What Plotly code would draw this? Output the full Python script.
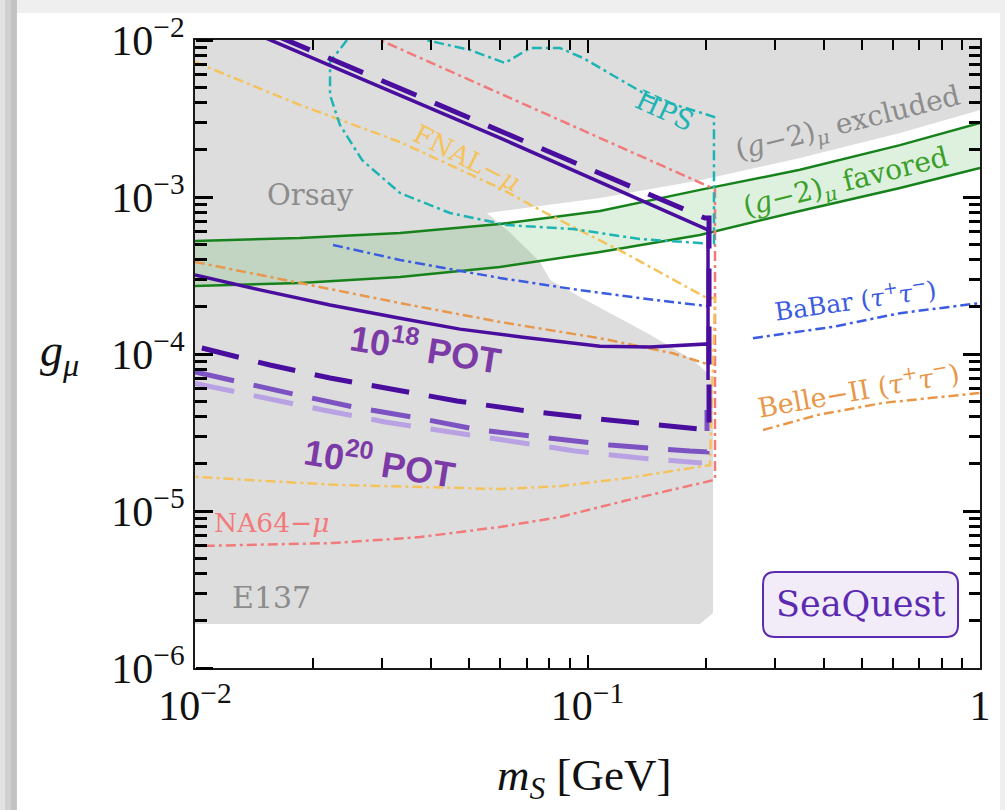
import numpy as np
import plotly.graph_objects as go

# ---------------- data (m_S in GeV, g_mu) ----------------
# excluded region: E137 + Orsay + (g-2)_mu excluded, traced as one outline
excl_m = [0.01, 1.0, 1.0, 0.6255, 0.3477, 0.1934, 0.1076, 0.0554, 0.0624, 0.0757,
          0.0803, 0.0957, 0.1418, 0.1857, 0.2088, 0.2088, 0.1934, 0.01]
excl_g = [1.0e-2, 1.0e-2, 3.58e-3, 2.56e-3, 1.77e-3, 1.28e-3, 9.86e-4, 7.91e-4, 6.17e-4, 3.86e-4,
          2.96e-4, 2.31e-4, 1.36e-4, 9.15e-5, 7.03e-5, 2.24e-6, 1.91e-6, 1.91e-6]

# (g-2)_mu favored band
g2_m = [0.01, 0.0185, 0.0333, 0.0598, 0.1076, 0.1934, 0.3477, 0.6255, 1.0]
g2_upper = [5.25e-4, 5.48e-4, 5.90e-4, 6.73e-4, 8.15e-4, 1.11e-3, 1.49e-3, 2.14e-3, 2.96e-3]
g2_lower = [2.71e-4, 2.83e-4, 3.09e-4, 3.58e-4, 4.46e-4, 5.73e-4, 8.15e-4, 1.14e-3, 1.53e-3]

# SeaQuest, 10^18 POT (solid contour)
sq18_m = [0.01452, 0.0598, 0.2028, 0.2028, 0.2028, 0.1443, 0.1076, 0.0685, 0.0473, 0.0333,
          0.02208, 0.01464, 0.01]
sq18_g = [1.076e-2, 2.38e-3, 6.17e-4, 6.82e-5, 1.16e-4, 1.11e-4, 1.12e-4, 1.28e-4, 1.44e-4, 1.69e-4,
          2.05e-4, 2.56e-4, 3.19e-4]

# SeaQuest, 10^20 POT (dashed contours)
sq20_m = [0.01596, 0.0598, 0.1992, 0.2040, 0.2040, 0.1076, 0.0673, 0.0465, 0.0323, 0.02208,
          0.01552, 0.01]
sq20_g = [1.076e-2, 2.63e-3, 7.34e-4, 7.34e-4, 3.28e-5, 3.85e-5, 4.40e-5, 5.02e-5, 5.90e-5, 7.03e-5,
          8.51e-5, 1.12e-4]
sq20b_m = [0.01, 0.01228, 0.01777, 0.02542, 0.037, 0.0532, 0.0779, 0.1141, 0.1824, 0.2016, 0.2016]
sq20b_g = [7.68e-5, 6.82e-5, 5.56e-5, 4.59e-5, 3.91e-5, 3.28e-5, 2.92e-5, 2.63e-5, 2.41e-5, 2.38e-5,
           4.40e-5]
sq20c_m = [0.01, 0.01464, 0.0212, 0.0305, 0.0441, 0.0635, 0.0929, 0.1345, 0.1957]
sq20c_g = [6.5e-5, 5.32e-5, 4.40e-5, 3.69e-5, 3.19e-5, 2.75e-5, 2.41e-5, 2.18e-5, 2.02e-5]

# Belle-II (tau+ tau-)
belle_m = [0.01, 0.0185, 0.0333, 0.0598, 0.1076, 0.1651, 0.2051]
belle_g = [3.86e-4, 2.83e-4, 2.11e-4, 1.60e-4, 1.26e-4, 1.01e-4, 8.51e-5]
belle_hi_m = [0.280, 0.3843, 0.566, 1.0]
belle_hi_g = [3.28e-5, 4.08e-5, 4.88e-5, 5.65e-5]

# BaBar (tau+ tau-)
babar_m = [0.02247, 0.0333, 0.0446, 0.0598, 0.0919, 0.136, 0.2016]
babar_g = [4.95e-4, 3.97e-4, 3.48e-4, 3.05e-4, 2.59e-4, 2.27e-4, 2.02e-4]
babar_hi_m = [0.264, 0.422, 0.6255, 1.0]
babar_hi_g = [1.26e-4, 1.49e-4, 1.82e-4, 2.11e-4]

# FNAL-mu
fnal_m = [0.01, 0.0185, 0.0333, 0.0598, 0.0757, 0.1231, 0.2016, 0.2113, 0.2051, 0.126, 0.0851,
          0.0598, 0.02247, 0.01]
fnal_g = [7.24e-3, 3.86e-3, 2.24e-3, 1.14e-3, 8.26e-4, 4.46e-4, 2.27e-4, 2.27e-4, 1.96e-5, 1.62e-5,
          1.44e-5, 1.38e-5, 1.47e-5, 1.65e-5]

# NA64-mu
na64_m = [0.0277, 0.0296, 0.2113, 0.2113, 0.126, 0.0851, 0.0598, 0.0374, 0.02247, 0.01]
na64_g = [1.076e-2, 1.0e-2, 1.12e-3, 1.58e-5, 1.17e-5, 9.16e-6, 7.91e-6, 6.82e-6, 6.25e-6, 5.98e-6]

# HPS
hps_m = [0.02439, 0.02208, 0.02208, 0.0234, 0.02664, 0.0333, 0.0446, 0.0624, 0.0919, 0.136, 0.21,
         0.21, 0.1443, 0.0974, 0.0851, 0.0714, 0.0616, 0.0502, 0.0397, 0.0363]
hps_g = [1.0e-2, 7.24e-3, 4.46e-3, 2.88e-3, 1.72e-3, 1.06e-3, 7.91e-4, 6.63e-4, 6.25e-4, 5.40e-4, 5.02e-4,
         3.24e-3, 4.34e-3, 7.68e-3, 8.89e-3, 8.89e-3, 7.14e-3, 8.64e-3, 9.86e-3, 1.05e-2]

x_ticks = [0.01, 0.1, 1]
x_ticktext = ["10<sup>−2</sup>", "10<sup>−1</sup>", "1"]
y_ticks = [1e-6, 1e-5, 1e-4, 1e-3, 1e-2]
y_ticktext = ["10<sup>−6</sup>", "10<sup>−5</sup>", "10<sup>−4</sup>", "10<sup>−3</sup>", "10<sup>−2</sup>"]
x_minor = [k * 10.0 ** e for e in (-2, -1) for k in range(2, 10)]
y_minor = [k * 10.0 ** e for e in (-6, -5, -4, -3) for k in range(2, 10)]

# ---------------- colours ----------------
C_GRAY = "#dddddd"
C_GREEN = "#17821c"
C_PURPLE = "#4a0e9e"
C_PURPLE_MID = "#7d52c2"
C_PURPLE_LIGHT = "#b9a2e3"
C_ORANGE = "#e8984a"
C_YELLOW = "#f5c35c"
C_PINK = "#f27a7a"
C_CYAN = "#1fb4b4"
C_BLUE = "#3b5be0"
C_AXIS = "#000000"

DASHDOT = "10px,4px,3px,4px"

fig = go.Figure()

# excluded region
fig.add_trace(go.Scatter(x=excl_m, y=excl_g, mode="lines", fill="toself", fillcolor=C_GRAY,
                         line=dict(width=0), hoverinfo="skip", showlegend=False))

# (g-2) favored band
band_m = list(g2_m) + list(g2_m[::-1])
band_g = list(g2_lower) + list(g2_upper[::-1])
fig.add_trace(go.Scatter(x=band_m, y=band_g, mode="lines", fill="toself",
                         fillcolor="rgba(70,175,70,0.18)", line=dict(width=0),
                         hoverinfo="skip", showlegend=False))
for yy in (g2_upper, g2_lower):
    fig.add_trace(go.Scatter(x=g2_m, y=yy, mode="lines", line=dict(color=C_GREEN, width=2.5),
                             showlegend=False))


def curve(x, y, color, width, dash="solid"):
    fig.add_trace(go.Scatter(x=x, y=y, mode="lines",
                             line=dict(color=color, width=width, dash=dash),
                             showlegend=False))


curve(na64_m, na64_g, C_PINK, 2.5, DASHDOT)
curve(fnal_m, fnal_g, C_YELLOW, 2.5, DASHDOT)
curve(hps_m, hps_g, C_CYAN, 2.5, DASHDOT)
curve(belle_m, belle_g, C_ORANGE, 2.5, DASHDOT)
curve(belle_hi_m, belle_hi_g, C_ORANGE, 2.5, DASHDOT)
curve(babar_m, babar_g, C_BLUE, 2.5, DASHDOT)
curve(babar_hi_m, babar_hi_g, C_BLUE, 2.5, DASHDOT)

curve(sq20c_m, sq20c_g, C_PURPLE_LIGHT, 5, "40px,20px")
curve(sq20b_m, sq20b_g, C_PURPLE_MID, 5, "40px,20px")
curve(sq20_m, sq20_g, C_PURPLE, 5, "38px,20px")
curve(sq18_m, sq18_g, C_PURPLE, 3.5)

# invisible carrier for the overlay axis that draws the left-hand tick marks
fig.add_trace(go.Scatter(x=g2_m, y=g2_upper, yaxis="y2", mode="lines", line=dict(width=0),
                         opacity=0, hoverinfo="skip", showlegend=False))

# ---------------- labels ----------------
SERIF = "DejaVu Serif"


def label(text, lx, ly, color, size, angle=0, family=SERIF):
    fig.add_annotation(x=lx, y=ly, xref="x", yref="y", text=text, showarrow=False,
                       textangle=angle, font=dict(family=family, size=size, color=color),
                       xanchor="center", yanchor="middle")


# rounded box behind "SeaQuest" (paper coordinates)
bx0, bx1, by0, by1 = 0.7236, 0.972, 0.0494, 0.1529
rx, ry = 0.0153, 0.0191
box_path = (f"M {bx0+rx},{by0} L {bx1-rx},{by0} Q {bx1},{by0} {bx1},{by0+ry} "
            f"L {bx1},{by1-ry} Q {bx1},{by1} {bx1-rx},{by1} L {bx0+rx},{by1} "
            f"Q {bx0},{by1} {bx0},{by1-ry} L {bx0},{by0+ry} Q {bx0},{by0} {bx0+rx},{by0} Z")
fig.add_shape(type="path", path=box_path, xref="paper", yref="paper",
              fillcolor="#f1ecf8", line=dict(color="#5b2ab0", width=2), layer="above")

# positions are log10(m_S), log10(g_mu)
label("Orsay", -1.705, -2.987, "#8c8c8c", 29)
label("FNAL−<i>μ</i>", -1.307, -2.752, C_YELLOW, 26, 27)
label("HPS", -0.8025, -2.446, C_CYAN, 27, 25)
label("(<i>g</i>−2)<sub><i>μ</i></sub> excluded", -0.336, -2.535, "#8c8c8c", 28, -14)
label("(<i>g</i>−2)<sub><i>μ</i></sub> favored", -0.342, -2.915, "#3aa02a", 28, -14)
label("BaBar (<i>τ</i><sup>+</sup><i>τ</i><sup>−</sup>)", -0.318, -3.656, C_BLUE, 25, -8)
label("Belle−II (<i>τ</i><sup>+</sup><i>τ</i><sup>−</sup>)", -0.312, -4.217, C_ORANGE, 27, -10)
label("NA64−<i>μ</i>", -1.804, -5.076, C_PINK, 26.5)
label("E137", -1.804, -5.548, "#8c8c8c", 30)
label("<b>10<sup>18</sup> POT</b>", -1.4115, -3.955, "#7b3aa5", 36, 9, "Liberation Sans")
label("<b>10<sup>20</sup> POT</b>", -1.5287, -4.682, "#7b3aa5", 36, 9, "Liberation Sans")
label("SeaQuest", -0.3032, -5.592, "#5b2ab0", 35)

# axis titles
fig.add_annotation(x=-0.172, y=0.50, xref="paper", yref="paper", showarrow=False,
                   xanchor="center", yanchor="middle",
                   text="<i>g</i><sub><i>μ</i></sub>",
                   font=dict(family="Liberation Serif", size=46, color="#111111"))
fig.add_annotation(x=0.4955, y=-0.175, xref="paper", yref="paper", showarrow=False,
                   xanchor="center", yanchor="middle",
                   text="<i>m</i><sub><i>S</i></sub> [GeV]",
                   font=dict(family="Liberation Serif", size=45, color="#111111"))

# page card with a soft shadow on the left
for x0, x1, col in ((-0.2484, -0.2420, "#e2e2e2"), (-0.2420, -0.2350, "#d0d0d0"),
                    (-0.2350, -0.2268, "#c2c2c2")):
    fig.add_shape(type="rect", xref="paper", yref="paper", x0=x0, x1=x1, y0=-0.23, y1=1.07,
                  fillcolor=col, line=dict(width=0), layer="below")
fig.add_shape(type="rect", xref="paper", yref="paper", x0=-0.2268, x1=1.0255, y0=-0.23, y1=1.043,
              fillcolor="white", line=dict(width=0), layer="below")

axis_common = dict(type="log", showgrid=False, zeroline=False, showline=True,
                   linecolor="#1a1a1a", linewidth=2, mirror="ticks", ticks="inside",
                   layer="above traces",
                   tickfont=dict(family="Liberation Serif", size=42, color="#111111"))

fig.update_xaxes(range=[-2, 0], tickvals=x_ticks, ticktext=x_ticktext,
                 ticklen=13, tickwidth=2, tickcolor=C_AXIS,
                 minor=dict(ticks="inside", tickvals=x_minor, ticklen=10, tickwidth=2,
                            tickcolor=C_AXIS, showgrid=False),
                 **axis_common)
fig.update_yaxes(range=[-6, -2], tickvals=y_ticks, ticktext=y_ticktext,
                 ticklen=17, tickwidth=2.5, tickcolor=C_AXIS,
                 minor=dict(ticks="inside", tickvals=y_minor, ticklen=11, tickwidth=2.5,
                            tickcolor=C_AXIS, showgrid=False),
                 **axis_common)

fig.update_layout(
    width=1005, height=810, autosize=False,
    margin=dict(l=195, r=25, t=40, b=142),
    paper_bgcolor="#efefef", plot_bgcolor="rgba(0,0,0,0)",
    showlegend=False,
    yaxis2=dict(type="log", range=[-6, -2], overlaying="y", side="right", anchor="free",
                position=0, showline=False, showgrid=False, zeroline=False,
                showticklabels=False, automargin=False, layer="above traces",
                tickvals=y_ticks, ticks="outside", ticklen=17, tickwidth=2.5, tickcolor=C_AXIS,
                minor=dict(ticks="outside", tickvals=y_minor, ticklen=11, tickwidth=2.5,
                           tickcolor=C_AXIS, showgrid=False)),
)

fig.write_html("out.html")
